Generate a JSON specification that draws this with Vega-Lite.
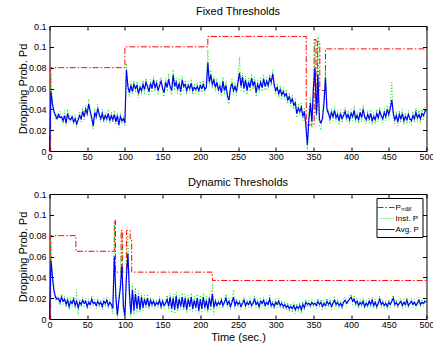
{
  "$schema": "https://vega.github.io/schema/vega-lite/v6.json",
  "background": "white",
  "padding": {"left": 16.5, "top": 5, "right": 0, "bottom": 2},
  "spacing": 14,
  "datasets": {
    "pmaxFixed": [
      {"t": 0, "pmax": 0}, {"t": 1.5, "pmax": 0.08}, {"t": 100, "pmax": 0.1}, {"t": 210, "pmax": 0.11},
      {"t": 340.5, "pmax": 0.025}, {"t": 351, "pmax": 0.107}, {"t": 353.5, "pmax": 0.04}, {"t": 355.5, "pmax": 0.105},
      {"t": 358.5, "pmax": 0.058}, {"t": 366, "pmax": 0.098}, {"t": 500, "pmax": 0.098}
    ],
    "pmaxDynamic": [
      {"t": 0, "pmax": 0}, {"t": 1.5, "pmax": 0.08}, {"t": 35, "pmax": 0.065}, {"t": 86, "pmax": 0.095},
      {"t": 87.5, "pmax": 0.045}, {"t": 95, "pmax": 0.085}, {"t": 97, "pmax": 0.045}, {"t": 102, "pmax": 0.085},
      {"t": 107, "pmax": 0.077}, {"t": 109, "pmax": 0.045}, {"t": 216, "pmax": 0.037}, {"t": 500, "pmax": 0.037}
    ],
    "fixed": [
      {"t":0,"inst":0,"avg":0},{"t":2,"inst":0.075,"avg":0.057},{"t":4,"inst":0.040,"avg":0.045},{"t":6,"inst":0.036,"avg":0.038},
      {"t":8,"inst":0.030,"avg":0.034},{"t":10,"inst":0.036,"avg":0.031},{"t":12,"inst":0.031,"avg":0.035},{"t":14,"inst":0.038,"avg":0.032},
      {"t":16,"inst":0.030,"avg":0.033},{"t":18,"inst":0.026,"avg":0.029},{"t":20,"inst":0.039,"avg":0.034},{"t":22,"inst":0.024,"avg":0.027},
      {"t":24,"inst":0.040,"avg":0.036},{"t":26,"inst":0.028,"avg":0.031},{"t":28,"inst":0.034,"avg":0.030},{"t":30,"inst":0.030,"avg":0.033},
      {"t":32,"inst":0.025,"avg":0.028},{"t":34,"inst":0.035,"avg":0.031},{"t":36,"inst":0.023,"avg":0.026},{"t":38,"inst":0.033,"avg":0.030},
      {"t":40,"inst":0.038,"avg":0.034},{"t":42,"inst":0.028,"avg":0.031},{"t":44,"inst":0.042,"avg":0.038},{"t":46,"inst":0.030,"avg":0.033},
      {"t":48,"inst":0.044,"avg":0.040},{"t":50,"inst":0.033,"avg":0.036},{"t":52,"inst":0.050,"avg":0.045},{"t":54,"inst":0.035,"avg":0.038},
      {"t":56,"inst":0.029,"avg":0.032},{"t":58,"inst":0.021,"avg":0.024},{"t":60,"inst":0.041,"avg":0.037},{"t":62,"inst":0.030,"avg":0.033},
      {"t":64,"inst":0.045,"avg":0.041},{"t":66,"inst":0.032,"avg":0.035},{"t":68,"inst":0.028,"avg":0.031},{"t":70,"inst":0.040,"avg":0.036},
      {"t":72,"inst":0.027,"avg":0.030},{"t":74,"inst":0.037,"avg":0.034},{"t":76,"inst":0.028,"avg":0.031},{"t":78,"inst":0.040,"avg":0.036},
      {"t":80,"inst":0.026,"avg":0.029},{"t":82,"inst":0.038,"avg":0.034},{"t":84,"inst":0.027,"avg":0.030},{"t":86,"inst":0.039,"avg":0.035},
      {"t":88,"inst":0.025,"avg":0.028},{"t":90,"inst":0.037,"avg":0.034},{"t":92,"inst":0.022,"avg":0.025},{"t":94,"inst":0.036,"avg":0.033},
      {"t":96,"inst":0.026,"avg":0.029},{"t":98,"inst":0.034,"avg":0.031},{"t":100,"inst":0.024,"avg":0.027},{"t":102,"inst":0.084,"avg":0.078},
      {"t":104,"inst":0.058,"avg":0.062},{"t":106,"inst":0.052,"avg":0.056},{"t":108,"inst":0.067,"avg":0.063},{"t":110,"inst":0.054,"avg":0.057},
      {"t":112,"inst":0.068,"avg":0.064},{"t":114,"inst":0.056,"avg":0.060},{"t":116,"inst":0.067,"avg":0.063},{"t":118,"inst":0.051,"avg":0.055},
      {"t":120,"inst":0.065,"avg":0.061},{"t":122,"inst":0.054,"avg":0.058},{"t":124,"inst":0.068,"avg":0.064},{"t":126,"inst":0.055,"avg":0.059},
      {"t":128,"inst":0.070,"avg":0.066},{"t":130,"inst":0.058,"avg":0.062},{"t":132,"inst":0.053,"avg":0.057},{"t":134,"inst":0.069,"avg":0.065},
      {"t":136,"inst":0.056,"avg":0.060},{"t":138,"inst":0.072,"avg":0.068},{"t":140,"inst":0.057,"avg":0.061},{"t":142,"inst":0.069,"avg":0.065},
      {"t":144,"inst":0.054,"avg":0.058},{"t":146,"inst":0.067,"avg":0.063},{"t":148,"inst":0.071,"avg":0.067},{"t":150,"inst":0.056,"avg":0.060},
      {"t":152,"inst":0.052,"avg":0.056},{"t":154,"inst":0.070,"avg":0.066},{"t":156,"inst":0.057,"avg":0.061},{"t":158,"inst":0.074,"avg":0.069},
      {"t":160,"inst":0.058,"avg":0.062},{"t":162,"inst":0.054,"avg":0.058},{"t":164,"inst":0.078,"avg":0.073},{"t":166,"inst":0.058,"avg":0.062},
      {"t":168,"inst":0.070,"avg":0.066},{"t":170,"inst":0.055,"avg":0.059},{"t":172,"inst":0.069,"avg":0.065},{"t":174,"inst":0.053,"avg":0.057},
      {"t":176,"inst":0.072,"avg":0.068},{"t":178,"inst":0.058,"avg":0.062},{"t":180,"inst":0.068,"avg":0.064},{"t":182,"inst":0.054,"avg":0.058},
      {"t":184,"inst":0.067,"avg":0.063},{"t":186,"inst":0.056,"avg":0.060},{"t":188,"inst":0.069,"avg":0.065},{"t":190,"inst":0.054,"avg":0.058},
      {"t":192,"inst":0.065,"avg":0.061},{"t":194,"inst":0.055,"avg":0.059},{"t":196,"inst":0.066,"avg":0.062},{"t":198,"inst":0.054,"avg":0.058},
      {"t":200,"inst":0.067,"avg":0.063},{"t":202,"inst":0.056,"avg":0.060},{"t":204,"inst":0.068,"avg":0.064},{"t":206,"inst":0.055,"avg":0.059},
      {"t":208,"inst":0.065,"avg":0.061},{"t":210,"inst":0.097,"avg":0.085},{"t":212,"inst":0.062,"avg":0.066},{"t":214,"inst":0.078,"avg":0.073},
      {"t":216,"inst":0.060,"avg":0.064},{"t":218,"inst":0.072,"avg":0.068},{"t":220,"inst":0.057,"avg":0.061},{"t":222,"inst":0.070,"avg":0.066},
      {"t":224,"inst":0.055,"avg":0.059},{"t":226,"inst":0.066,"avg":0.062},{"t":228,"inst":0.052,"avg":0.056},{"t":230,"inst":0.071,"avg":0.067},
      {"t":232,"inst":0.054,"avg":0.058},{"t":234,"inst":0.067,"avg":0.063},{"t":236,"inst":0.049,"avg":0.053},{"t":238,"inst":0.045,"avg":0.049},
      {"t":240,"inst":0.064,"avg":0.060},{"t":242,"inst":0.069,"avg":0.065},{"t":244,"inst":0.054,"avg":0.058},{"t":246,"inst":0.066,"avg":0.062},
      {"t":248,"inst":0.053,"avg":0.057},{"t":250,"inst":0.070,"avg":0.066},{"t":252,"inst":0.090,"avg":0.075},{"t":254,"inst":0.058,"avg":0.062},
      {"t":256,"inst":0.075,"avg":0.071},{"t":258,"inst":0.056,"avg":0.060},{"t":260,"inst":0.072,"avg":0.068},{"t":262,"inst":0.054,"avg":0.058},
      {"t":264,"inst":0.070,"avg":0.066},{"t":266,"inst":0.057,"avg":0.061},{"t":268,"inst":0.074,"avg":0.070},{"t":270,"inst":0.059,"avg":0.063},
      {"t":272,"inst":0.071,"avg":0.067},{"t":274,"inst":0.052,"avg":0.056},{"t":276,"inst":0.068,"avg":0.064},{"t":278,"inst":0.056,"avg":0.060},
      {"t":280,"inst":0.070,"avg":0.066},{"t":282,"inst":0.057,"avg":0.061},{"t":284,"inst":0.073,"avg":0.069},{"t":286,"inst":0.058,"avg":0.062},
      {"t":288,"inst":0.071,"avg":0.067},{"t":290,"inst":0.059,"avg":0.063},{"t":292,"inst":0.074,"avg":0.070},{"t":294,"inst":0.062,"avg":0.066},
      {"t":296,"inst":0.078,"avg":0.074},{"t":298,"inst":0.060,"avg":0.064},{"t":300,"inst":0.054,"avg":0.058},{"t":302,"inst":0.065,"avg":0.061},
      {"t":304,"inst":0.051,"avg":0.055},{"t":306,"inst":0.063,"avg":0.059},{"t":308,"inst":0.050,"avg":0.054},{"t":310,"inst":0.061,"avg":0.057},
      {"t":312,"inst":0.049,"avg":0.053},{"t":314,"inst":0.059,"avg":0.055},{"t":316,"inst":0.045,"avg":0.049},{"t":318,"inst":0.056,"avg":0.052},
      {"t":320,"inst":0.043,"avg":0.047},{"t":322,"inst":0.054,"avg":0.050},{"t":324,"inst":0.040,"avg":0.044},{"t":326,"inst":0.050,"avg":0.046},
      {"t":328,"inst":0.032,"avg":0.036},{"t":330,"inst":0.045,"avg":0.041},{"t":332,"inst":0.034,"avg":0.038},{"t":334,"inst":0.046,"avg":0.042},
      {"t":336,"inst":0.029,"avg":0.033},{"t":338,"inst":0.042,"avg":0.038},{"t":340,"inst":0.020,"avg":0.025},{"t":342,"inst":0.000,"avg":0.006},
      {"t":344,"inst":0.036,"avg":0.030},{"t":346,"inst":0.052,"avg":0.046},{"t":348,"inst":0.022,"avg":0.028},{"t":350,"inst":0.068,"avg":0.060},
      {"t":352,"inst":0.105,"avg":0.080},{"t":354,"inst":0.030,"avg":0.035},{"t":356,"inst":0.110,"avg":0.073},{"t":358,"inst":0.024,"avg":0.030},
      {"t":360,"inst":0.020,"avg":0.027},{"t":362,"inst":0.036,"avg":0.031},{"t":364,"inst":0.052,"avg":0.045},{"t":366,"inst":0.080,"avg":0.070},
      {"t":368,"inst":0.036,"avg":0.040},{"t":370,"inst":0.040,"avg":0.036},{"t":372,"inst":0.027,"avg":0.031},{"t":374,"inst":0.041,"avg":0.037},
      {"t":376,"inst":0.029,"avg":0.033},{"t":378,"inst":0.043,"avg":0.039},{"t":380,"inst":0.028,"avg":0.032},{"t":382,"inst":0.039,"avg":0.035},
      {"t":384,"inst":0.025,"avg":0.029},{"t":386,"inst":0.040,"avg":0.036},{"t":388,"inst":0.027,"avg":0.031},{"t":390,"inst":0.038,"avg":0.034},
      {"t":392,"inst":0.042,"avg":0.038},{"t":394,"inst":0.028,"avg":0.032},{"t":396,"inst":0.039,"avg":0.035},{"t":398,"inst":0.026,"avg":0.030},
      {"t":400,"inst":0.040,"avg":0.036},{"t":402,"inst":0.029,"avg":0.033},{"t":404,"inst":0.043,"avg":0.039},{"t":406,"inst":0.027,"avg":0.031},
      {"t":408,"inst":0.038,"avg":0.034},{"t":410,"inst":0.026,"avg":0.030},{"t":412,"inst":0.041,"avg":0.037},{"t":414,"inst":0.028,"avg":0.032},
      {"t":416,"inst":0.044,"avg":0.040},{"t":418,"inst":0.029,"avg":0.033},{"t":420,"inst":0.026,"avg":0.030},{"t":422,"inst":0.039,"avg":0.035},
      {"t":424,"inst":0.027,"avg":0.031},{"t":426,"inst":0.040,"avg":0.036},{"t":428,"inst":0.025,"avg":0.029},{"t":430,"inst":0.037,"avg":0.033},
      {"t":432,"inst":0.026,"avg":0.030},{"t":434,"inst":0.040,"avg":0.036},{"t":436,"inst":0.028,"avg":0.032},{"t":438,"inst":0.042,"avg":0.038},
      {"t":440,"inst":0.030,"avg":0.034},{"t":442,"inst":0.027,"avg":0.031},{"t":444,"inst":0.041,"avg":0.037},{"t":446,"inst":0.029,"avg":0.033},
      {"t":448,"inst":0.044,"avg":0.040},{"t":450,"inst":0.031,"avg":0.035},{"t":452,"inst":0.045,"avg":0.041},{"t":454,"inst":0.066,"avg":0.049},
      {"t":456,"inst":0.032,"avg":0.036},{"t":458,"inst":0.026,"avg":0.030},{"t":460,"inst":0.038,"avg":0.034},{"t":462,"inst":0.024,"avg":0.028},
      {"t":464,"inst":0.039,"avg":0.035},{"t":466,"inst":0.027,"avg":0.031},{"t":468,"inst":0.040,"avg":0.036},{"t":470,"inst":0.025,"avg":0.029},
      {"t":472,"inst":0.037,"avg":0.033},{"t":474,"inst":0.026,"avg":0.030},{"t":476,"inst":0.039,"avg":0.035},{"t":478,"inst":0.027,"avg":0.031},
      {"t":480,"inst":0.025,"avg":0.029},{"t":482,"inst":0.038,"avg":0.034},{"t":484,"inst":0.027,"avg":0.031},{"t":486,"inst":0.041,"avg":0.037},
      {"t":488,"inst":0.028,"avg":0.032},{"t":490,"inst":0.039,"avg":0.035},{"t":492,"inst":0.027,"avg":0.031},{"t":494,"inst":0.040,"avg":0.036},
      {"t":496,"inst":0.030,"avg":0.034},{"t":498,"inst":0.042,"avg":0.038},{"t":500,"inst":0.044,"avg":0.040}
    ],
    "dynamic": [
      {"t":0,"inst":0,"avg":0},{"t":2,"inst":0.075,"avg":0.056},{"t":4,"inst":0.035,"avg":0.040},{"t":6,"inst":0.024,"avg":0.027},
      {"t":8,"inst":0.018,"avg":0.021},{"t":10,"inst":0.022,"avg":0.019},{"t":12,"inst":0.017,"avg":0.020},{"t":14,"inst":0.013,"avg":0.016},
      {"t":16,"inst":0.024,"avg":0.021},{"t":18,"inst":0.014,"avg":0.017},{"t":20,"inst":0.022,"avg":0.019},{"t":22,"inst":0.011,"avg":0.014},
      {"t":24,"inst":0.021,"avg":0.018},{"t":26,"inst":0.009,"avg":0.012},{"t":28,"inst":0.020,"avg":0.017},{"t":30,"inst":0.012,"avg":0.015},
      {"t":32,"inst":0.022,"avg":0.019},{"t":34,"inst":0.010,"avg":0.013},{"t":36,"inst":0.028,"avg":0.017},{"t":38,"inst":0.004,"avg":0.011},
      {"t":40,"inst":0.019,"avg":0.016},{"t":42,"inst":0.011,"avg":0.014},{"t":44,"inst":0.021,"avg":0.018},{"t":46,"inst":0.012,"avg":0.015},
      {"t":48,"inst":0.020,"avg":0.017},{"t":50,"inst":0.009,"avg":0.012},{"t":52,"inst":0.019,"avg":0.016},{"t":54,"inst":0.011,"avg":0.014},
      {"t":56,"inst":0.022,"avg":0.019},{"t":58,"inst":0.012,"avg":0.015},{"t":60,"inst":0.019,"avg":0.016},{"t":62,"inst":0.010,"avg":0.013},
      {"t":64,"inst":0.020,"avg":0.017},{"t":66,"inst":0.011,"avg":0.014},{"t":68,"inst":0.019,"avg":0.016},{"t":70,"inst":0.009,"avg":0.012},
      {"t":72,"inst":0.020,"avg":0.017},{"t":74,"inst":0.012,"avg":0.015},{"t":76,"inst":0.021,"avg":0.018},{"t":78,"inst":0.010,"avg":0.013},
      {"t":80,"inst":0.019,"avg":0.016},{"t":82,"inst":0.011,"avg":0.014},{"t":84,"inst":0.005,"avg":0.010},{"t":86,"inst":0.092,"avg":0.060},
      {"t":88,"inst":0.015,"avg":0.022},{"t":90,"inst":0.000,"avg":0.004},{"t":92,"inst":0.022,"avg":0.018},{"t":94,"inst":0.040,"avg":0.030},
      {"t":96,"inst":0.084,"avg":0.052},{"t":98,"inst":0.008,"avg":0.012},{"t":100,"inst":0.000,"avg":0.003},{"t":102,"inst":0.050,"avg":0.040},
      {"t":104,"inst":0.082,"avg":0.063},{"t":106,"inst":0.018,"avg":0.025},{"t":108,"inst":0.002,"avg":0.005},{"t":110,"inst":0.034,"avg":0.028},
      {"t":112,"inst":0.004,"avg":0.008},{"t":114,"inst":0.030,"avg":0.024},{"t":116,"inst":0.006,"avg":0.010},{"t":118,"inst":0.027,"avg":0.022},
      {"t":120,"inst":0.006,"avg":0.009},{"t":122,"inst":0.025,"avg":0.021},{"t":124,"inst":0.008,"avg":0.011},{"t":126,"inst":0.023,"avg":0.019},
      {"t":128,"inst":0.010,"avg":0.013},{"t":130,"inst":0.024,"avg":0.020},{"t":132,"inst":0.009,"avg":0.012},{"t":134,"inst":0.021,"avg":0.018},
      {"t":136,"inst":0.011,"avg":0.014},{"t":138,"inst":0.020,"avg":0.017},{"t":140,"inst":0.010,"avg":0.013},{"t":142,"inst":0.019,"avg":0.016},
      {"t":144,"inst":0.011,"avg":0.014},{"t":146,"inst":0.022,"avg":0.018},{"t":148,"inst":0.009,"avg":0.012},{"t":150,"inst":0.020,"avg":0.017},
      {"t":152,"inst":0.010,"avg":0.013},{"t":154,"inst":0.018,"avg":0.015},{"t":156,"inst":0.023,"avg":0.019},{"t":158,"inst":0.009,"avg":0.012},
      {"t":160,"inst":0.025,"avg":0.021},{"t":162,"inst":0.006,"avg":0.010},{"t":164,"inst":0.024,"avg":0.020},{"t":166,"inst":0.005,"avg":0.009},
      {"t":168,"inst":0.026,"avg":0.022},{"t":170,"inst":0.007,"avg":0.010},{"t":172,"inst":0.023,"avg":0.019},{"t":174,"inst":0.009,"avg":0.012},
      {"t":176,"inst":0.025,"avg":0.021},{"t":178,"inst":0.008,"avg":0.011},{"t":180,"inst":0.024,"avg":0.020},{"t":182,"inst":0.006,"avg":0.009},
      {"t":184,"inst":0.023,"avg":0.019},{"t":186,"inst":0.009,"avg":0.012},{"t":188,"inst":0.025,"avg":0.021},{"t":190,"inst":0.007,"avg":0.010},
      {"t":192,"inst":0.022,"avg":0.018},{"t":194,"inst":0.008,"avg":0.011},{"t":196,"inst":0.024,"avg":0.020},{"t":198,"inst":0.005,"avg":0.008},
      {"t":200,"inst":0.023,"avg":0.019},{"t":202,"inst":0.007,"avg":0.010},{"t":204,"inst":0.025,"avg":0.021},{"t":206,"inst":0.008,"avg":0.011},
      {"t":208,"inst":0.022,"avg":0.018},{"t":210,"inst":0.006,"avg":0.009},{"t":212,"inst":0.024,"avg":0.020},{"t":214,"inst":0.008,"avg":0.012},
      {"t":216,"inst":0.034,"avg":0.024},{"t":218,"inst":0.004,"avg":0.011},{"t":220,"inst":0.020,"avg":0.017},{"t":222,"inst":0.010,"avg":0.013},
      {"t":224,"inst":0.019,"avg":0.016},{"t":226,"inst":0.011,"avg":0.014},{"t":228,"inst":0.021,"avg":0.018},{"t":230,"inst":0.010,"avg":0.013},
      {"t":232,"inst":0.019,"avg":0.016},{"t":234,"inst":0.024,"avg":0.020},{"t":236,"inst":0.011,"avg":0.014},{"t":238,"inst":0.020,"avg":0.017},
      {"t":240,"inst":0.009,"avg":0.012},{"t":242,"inst":0.019,"avg":0.016},{"t":244,"inst":0.028,"avg":0.021},{"t":246,"inst":0.010,"avg":0.013},
      {"t":248,"inst":0.020,"avg":0.017},{"t":250,"inst":0.011,"avg":0.014},{"t":252,"inst":0.019,"avg":0.016},{"t":254,"inst":0.009,"avg":0.012},
      {"t":256,"inst":0.018,"avg":0.015},{"t":258,"inst":0.021,"avg":0.018},{"t":260,"inst":0.010,"avg":0.013},{"t":262,"inst":0.019,"avg":0.016},
      {"t":264,"inst":0.011,"avg":0.014},{"t":266,"inst":0.020,"avg":0.017},{"t":268,"inst":0.010,"avg":0.013},{"t":270,"inst":0.018,"avg":0.015},
      {"t":272,"inst":0.022,"avg":0.019},{"t":274,"inst":0.011,"avg":0.014},{"t":276,"inst":0.019,"avg":0.016},{"t":278,"inst":0.009,"avg":0.012},
      {"t":280,"inst":0.020,"avg":0.017},{"t":282,"inst":0.012,"avg":0.015},{"t":284,"inst":0.021,"avg":0.018},{"t":286,"inst":0.010,"avg":0.013},
      {"t":288,"inst":0.019,"avg":0.016},{"t":290,"inst":0.011,"avg":0.014},{"t":292,"inst":0.023,"avg":0.019},{"t":294,"inst":0.010,"avg":0.013},
      {"t":296,"inst":0.018,"avg":0.015},{"t":298,"inst":0.009,"avg":0.012},{"t":300,"inst":0.019,"avg":0.016},{"t":302,"inst":0.011,"avg":0.014},
      {"t":304,"inst":0.020,"avg":0.017},{"t":306,"inst":0.010,"avg":0.013},{"t":308,"inst":0.018,"avg":0.015},{"t":310,"inst":0.009,"avg":0.012},
      {"t":312,"inst":0.017,"avg":0.014},{"t":314,"inst":0.008,"avg":0.011},{"t":316,"inst":0.016,"avg":0.013},{"t":318,"inst":0.007,"avg":0.010},
      {"t":320,"inst":0.015,"avg":0.012},{"t":322,"inst":0.006,"avg":0.010},{"t":324,"inst":0.016,"avg":0.013},{"t":326,"inst":0.005,"avg":0.009},
      {"t":328,"inst":0.015,"avg":0.012},{"t":330,"inst":0.007,"avg":0.010},{"t":332,"inst":0.016,"avg":0.013},{"t":334,"inst":0.005,"avg":0.009},
      {"t":336,"inst":0.017,"avg":0.014},{"t":338,"inst":0.008,"avg":0.011},{"t":340,"inst":0.019,"avg":0.016},{"t":342,"inst":0.011,"avg":0.014},
      {"t":344,"inst":0.018,"avg":0.015},{"t":346,"inst":0.010,"avg":0.013},{"t":348,"inst":0.019,"avg":0.016},{"t":350,"inst":0.011,"avg":0.014},
      {"t":352,"inst":0.018,"avg":0.015},{"t":354,"inst":0.010,"avg":0.013},{"t":356,"inst":0.020,"avg":0.017},{"t":358,"inst":0.011,"avg":0.014},
      {"t":360,"inst":0.019,"avg":0.016},{"t":362,"inst":0.009,"avg":0.012},{"t":364,"inst":0.018,"avg":0.015},{"t":366,"inst":0.010,"avg":0.013},
      {"t":368,"inst":0.020,"avg":0.017},{"t":370,"inst":0.011,"avg":0.014},{"t":372,"inst":0.019,"avg":0.016},{"t":374,"inst":0.009,"avg":0.012},
      {"t":376,"inst":0.018,"avg":0.015},{"t":378,"inst":0.022,"avg":0.018},{"t":380,"inst":0.011,"avg":0.014},{"t":382,"inst":0.019,"avg":0.016},
      {"t":384,"inst":0.010,"avg":0.013},{"t":386,"inst":0.018,"avg":0.015},{"t":388,"inst":0.009,"avg":0.012},{"t":390,"inst":0.019,"avg":0.016},
      {"t":392,"inst":0.021,"avg":0.018},{"t":394,"inst":0.012,"avg":0.015},{"t":396,"inst":0.020,"avg":0.017},{"t":398,"inst":0.022,"avg":0.019},
      {"t":400,"inst":0.024,"avg":0.021},{"t":402,"inst":0.014,"avg":0.017},{"t":404,"inst":0.022,"avg":0.019},{"t":406,"inst":0.012,"avg":0.015},
      {"t":408,"inst":0.020,"avg":0.017},{"t":410,"inst":0.010,"avg":0.013},{"t":412,"inst":0.019,"avg":0.016},{"t":414,"inst":0.011,"avg":0.014},
      {"t":416,"inst":0.020,"avg":0.017},{"t":418,"inst":0.009,"avg":0.012},{"t":420,"inst":0.018,"avg":0.015},{"t":422,"inst":0.010,"avg":0.013},
      {"t":424,"inst":0.020,"avg":0.017},{"t":426,"inst":0.011,"avg":0.014},{"t":428,"inst":0.021,"avg":0.018},{"t":430,"inst":0.010,"avg":0.013},
      {"t":432,"inst":0.019,"avg":0.016},{"t":434,"inst":0.009,"avg":0.012},{"t":436,"inst":0.018,"avg":0.015},{"t":438,"inst":0.022,"avg":0.019},
      {"t":440,"inst":0.011,"avg":0.014},{"t":442,"inst":0.019,"avg":0.016},{"t":444,"inst":0.010,"avg":0.013},{"t":446,"inst":0.018,"avg":0.015},
      {"t":448,"inst":0.009,"avg":0.012},{"t":450,"inst":0.019,"avg":0.016},{"t":452,"inst":0.011,"avg":0.014},{"t":454,"inst":0.020,"avg":0.017},
      {"t":456,"inst":0.023,"avg":0.020},{"t":458,"inst":0.011,"avg":0.014},{"t":460,"inst":0.019,"avg":0.016},{"t":462,"inst":0.010,"avg":0.013},
      {"t":464,"inst":0.018,"avg":0.015},{"t":466,"inst":0.020,"avg":0.017},{"t":468,"inst":0.010,"avg":0.013},{"t":470,"inst":0.019,"avg":0.016},
      {"t":472,"inst":0.011,"avg":0.014},{"t":474,"inst":0.021,"avg":0.018},{"t":476,"inst":0.010,"avg":0.013},{"t":478,"inst":0.018,"avg":0.015},
      {"t":480,"inst":0.020,"avg":0.017},{"t":482,"inst":0.011,"avg":0.014},{"t":484,"inst":0.019,"avg":0.016},{"t":486,"inst":0.010,"avg":0.013},
      {"t":488,"inst":0.018,"avg":0.015},{"t":490,"inst":0.021,"avg":0.018},{"t":492,"inst":0.011,"avg":0.014},{"t":494,"inst":0.019,"avg":0.016},
      {"t":496,"inst":0.012,"avg":0.015},{"t":498,"inst":0.020,"avg":0.017},{"t":500,"inst":0.019,"avg":0.016}
    ]
  },
  "vconcat": [
    {
      "width": 377,
      "height": 125,
      "title": {"text": "Fixed Thresholds", "offset": 5},
      "layer": [
        {
          "data": {"name": "pmaxFixed"},
          "mark": {"type": "line", "interpolate": "step-after", "strokeWidth": 1},
          "encoding": {
            "x": {"field": "t", "type": "quantitative", "scale": {"domain": [0, 500], "nice": false},
                  "axis": {"orient": "top", "values": [0,50,100,150,200,250,300,350,400,450,500], "labels": false, "title": null}},
            "y": {"field": "pmax", "type": "quantitative", "scale": {"domain": [0, 0.12], "nice": false},
                  "axis": {"orient": "right", "values": [0,0.02,0.04,0.06,0.08,0.1,0.12], "labels": false, "title": null}},
            "color": {"datum": "Pₘₐₓ", "scale": {"domain": ["Pₘₐₓ", "Inst. P", "Avg. P"], "range": ["#ff0000", "#00e600", "#0000ff"]}, "legend": null},
            "strokeDash": {"datum": "Pₘₐₓ", "scale": {"domain": ["Pₘₐₓ", "Inst. P", "Avg. P"], "range": [[6,2,1.5,2],[1,2],[1,0]]}, "legend": null}
          }
        },
        {
          "data": {"name": "fixed"},
          "mark": {"type": "line", "strokeWidth": 1},
          "encoding": {
            "x": {"field": "t", "type": "quantitative", "axis": {"values": [0,50,100,150,200,250,300,350,400,450,500], "title": null}},
            "y": {"field": "inst", "type": "quantitative", "axis": {"values": [0,0.02,0.04,0.06,0.08,0.1,0.12], "format": "~g", "title": "Dropping Prob. Pd"}},
            "color": {"datum": "Inst. P", "legend": null},
            "strokeDash": {"datum": "Inst. P", "legend": null}
          }
        },
        {
          "data": {"name": "fixed"},
          "mark": {"type": "line", "strokeWidth": 1.2},
          "encoding": {
            "x": {"field": "t", "type": "quantitative", "axis": null},
            "y": {"field": "avg", "type": "quantitative", "axis": null},
            "color": {"datum": "Avg. P", "legend": null},
            "strokeDash": {"datum": "Avg. P", "legend": null}
          }
        }
      ],
      "resolve": {"axis": {"x": "independent", "y": "independent"}}
    },
    {
      "width": 377,
      "height": 125,
      "title": {"text": "Dynamic Thresholds", "offset": 2},
      "layer": [
        {
          "data": {"name": "pmaxDynamic"},
          "mark": {"type": "line", "interpolate": "step-after", "strokeWidth": 1},
          "encoding": {
            "x": {"field": "t", "type": "quantitative", "scale": {"domain": [0, 500], "nice": false},
                  "axis": {"orient": "top", "values": [0,50,100,150,200,250,300,350,400,450,500], "labels": false, "title": null}},
            "y": {"field": "pmax", "type": "quantitative", "scale": {"domain": [0, 0.12], "nice": false},
                  "axis": {"orient": "right", "values": [0,0.02,0.04,0.06,0.08,0.1,0.12], "labels": false, "title": null}},
            "color": {"datum": "Pₘₐₓ", "scale": {"domain": ["Pₘₐₓ", "Inst. P", "Avg. P"], "range": ["#ff0000", "#00e600", "#0000ff"]},
                      "legend": {"title": null, "orient": "top-right", "offset": 4, "strokeColor": "black", "fillColor": "white", "padding": 3,
                                 "symbolType": "M-1.55,0H1.55", "symbolSize": 121, "symbolStrokeWidth": 1.2, "labelFontSize": 8, "labelOffset": 3, "rowPadding": 0, "cornerRadius": 0,
                                 "encode": {"symbols": {"update": {"stroke": {"signal": "datum.value === 'Pₘₐₓ' ? '#ff0000' : datum.value === 'Inst. P' ? '#00e600' : '#0000ff'"}, "fill": {"value": "transparent"}}}}}},
            "strokeDash": {"datum": "Pₘₐₓ", "scale": {"domain": ["Pₘₐₓ", "Inst. P", "Avg. P"], "range": [[6,2,1.5,2],[1,2],[1,0]]},
                      "legend": {"title": null, "orient": "top-right", "offset": 4, "strokeColor": "black", "fillColor": "white", "padding": 3,
                                 "symbolType": "M-1.55,0H1.55", "symbolSize": 121, "symbolStrokeWidth": 1.2, "labelFontSize": 8, "labelOffset": 3, "rowPadding": 0, "cornerRadius": 0,
                                 "encode": {"symbols": {"update": {"stroke": {"signal": "datum.value === 'Pₘₐₓ' ? '#ff0000' : datum.value === 'Inst. P' ? '#00e600' : '#0000ff'"}, "fill": {"value": "transparent"}}}}}}
          }
        },
        {
          "data": {"name": "dynamic"},
          "mark": {"type": "line", "strokeWidth": 1},
          "encoding": {
            "x": {"field": "t", "type": "quantitative", "axis": {"values": [0,50,100,150,200,250,300,350,400,450,500], "title": "Time (sec.)"}},
            "y": {"field": "inst", "type": "quantitative", "axis": {"values": [0,0.02,0.04,0.06,0.08,0.1,0.12], "format": "~g", "title": "Dropping Prob. Pd"}},
            "color": {"datum": "Inst. P"},
            "strokeDash": {"datum": "Inst. P"}
          }
        },
        {
          "data": {"name": "dynamic"},
          "mark": {"type": "line", "strokeWidth": 1.2},
          "encoding": {
            "x": {"field": "t", "type": "quantitative", "axis": null},
            "y": {"field": "avg", "type": "quantitative", "axis": null},
            "color": {"datum": "Avg. P"},
            "strokeDash": {"datum": "Avg. P"}
          }
        }
      ],
      "resolve": {"axis": {"x": "independent", "y": "independent"}}
    }
  ],
  "resolve": {"scale": {"color": "independent", "strokeDash": "independent"}},
  "config": {
    "font": "Liberation Sans",
    "view": {"stroke": "black", "strokeWidth": 1},
    "axis": {
      "grid": false, "domain": false, "tickColor": "black", "tickSize": -4, "tickWidth": 1,
      "labelColor": "black", "labelFontSize": 9, "labelFont": "Liberation Sans",
      "titleColor": "black", "titleFontSize": 11, "titleFontWeight": "normal", "titleFont": "Liberation Sans"
    },
    "axisY": {"titlePadding": 0, "labelPadding": 7.5, "minExtent": 0},
    "axisX": {"titlePadding": 2, "labelPadding": 5, "labelFlush": false},
    "title": {"fontSize": 11, "fontWeight": "normal", "font": "Liberation Sans", "color": "black"},
    "legend": {"labelFont": "Liberation Sans", "labelColor": "black"}
  }
}
